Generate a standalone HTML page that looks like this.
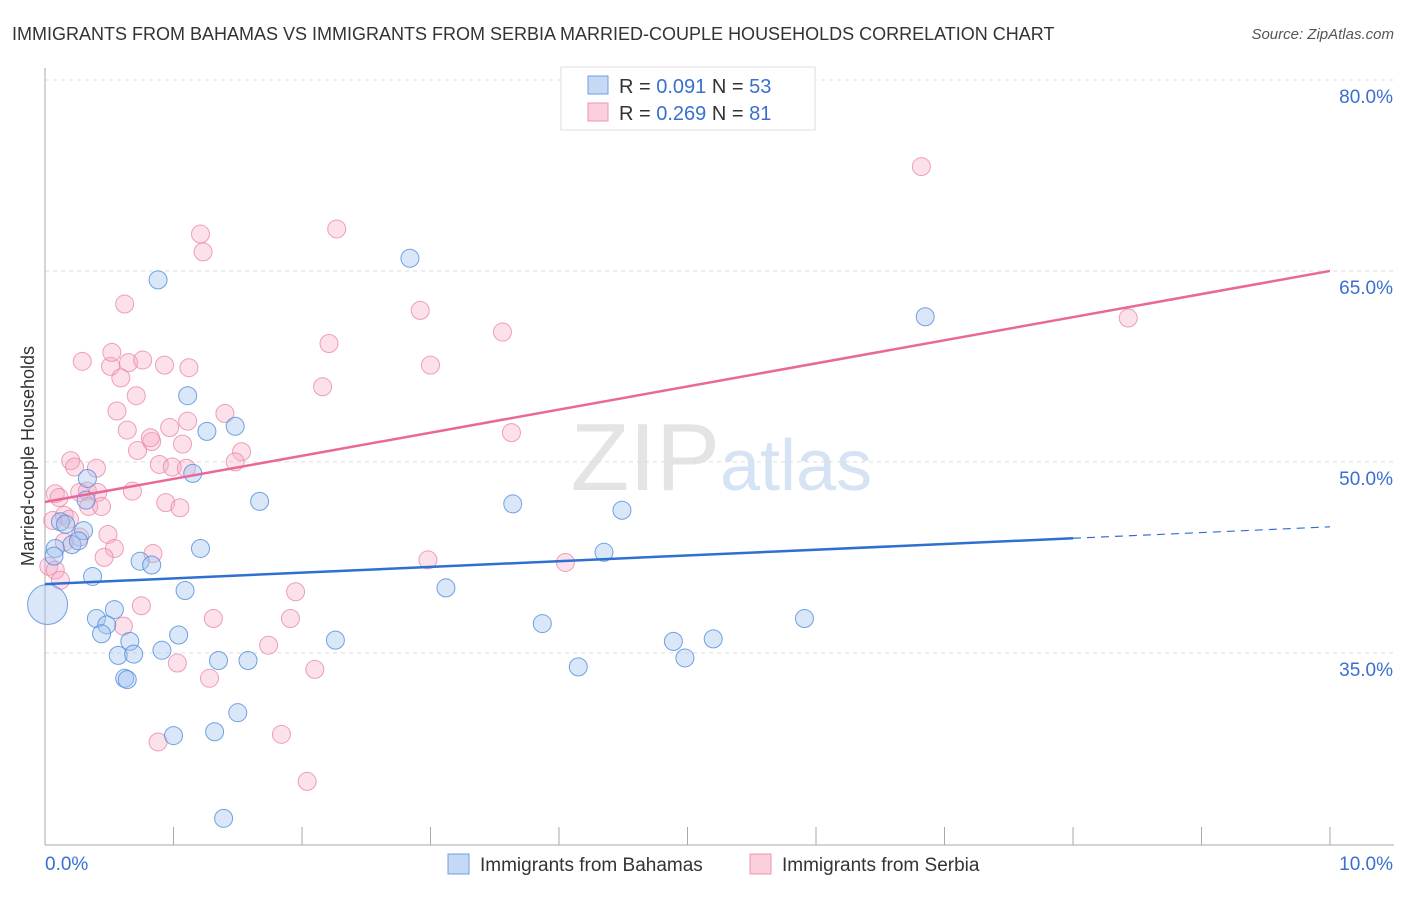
<!DOCTYPE html>
<html><head><meta charset="utf-8"><style>
body{margin:0;background:#fff;font-family:"Liberation Sans",sans-serif}
svg text{font-family:"Liberation Sans",sans-serif}
</style></head><body>
<svg id="c" width="1406" height="892">
<text x="12" y="40" font-size="18" fill="#333">IMMIGRANTS FROM BAHAMAS VS IMMIGRANTS FROM SERBIA MARRIED-COUPLE HOUSEHOLDS CORRELATION CHART</text>
<text x="1394" y="39" font-size="15" fill="#555" font-style="italic" text-anchor="end">Source: ZipAtlas.com</text>
<text x="720" y="490" font-size="96" fill="#e4e4e4" text-anchor="end" font-family="Liberation Serif">ZIP</text>
<text x="720" y="490" font-size="72" fill="#d6e3f5">atlas</text>
<g id="grid"></g><g id="pts"></g><g id="lines"></g>
<text transform="translate(34,456) rotate(-90)" font-size="18" fill="#333" text-anchor="middle">Married-couple Households</text>
<g>
<rect x="561" y="67" width="254" height="63" fill="#fff" stroke="#ddd"/>
<rect x="588" y="76" width="20" height="18" fill="#c5d9f5" stroke="#6e9ee0"/>
<rect x="588" y="103" width="20" height="18" fill="#fbcfdc" stroke="#eb97b2"/>
<text x="619" y="93" font-size="20" fill="#333">R = <tspan fill="#3a6fd0">0.091</tspan>   N = <tspan fill="#3a6fd0">53</tspan></text>
<text x="619" y="120" font-size="20" fill="#333">R = <tspan fill="#3a6fd0">0.269</tspan>   N = <tspan fill="#3a6fd0"> 81</tspan></text>
</g>
<g>
<rect x="448" y="854" width="21" height="20" fill="#c5d9f5" stroke="#6e9ee0"/>
<text x="480" y="871" font-size="19" fill="#333">Immigrants from Bahamas</text>
<rect x="750" y="854" width="21" height="20" fill="#fbcfdc" stroke="#eb97b2"/>
<text x="782" y="871" font-size="19" fill="#333">Immigrants from Serbia</text>
</g>
</svg>
<script>
const yTicks=[80,65,50,35];
const yTickLabels=["80.0%","65.0%","50.0%","35.0%"];
const xTicks=[0,1,2,3,4,5,6,7,8,9,10];
const blueX=[0.88,2.84,6.85,1.11,1.26,1.48,1.15,1.67,3.64,4.49,4.35,1.21,0.74,0.83,1.09,3.12,0.37,0.54,0.40,0.48,0.44,0.66,0.57,0.69,0.91,1.04,2.26,1.35,1.58,3.87,4.15,4.89,4.98,5.20,5.91,0.62,0.64,1.00,1.32,1.50,1.39,0.12,0.16,0.21,0.32,0.30,0.26,0.08,0.02,0.07,0.33];
const blueY=[64.3,66.0,61.4,55.2,52.4,52.8,49.1,46.9,46.7,46.2,42.9,43.2,42.2,41.9,39.9,40.1,41.0,38.4,37.7,37.2,36.5,35.9,34.8,34.9,35.2,36.4,36.0,34.4,34.4,37.3,33.9,35.9,34.6,36.1,37.7,33.0,32.9,28.5,28.8,30.3,22.0,45.3,45.1,43.5,47.0,44.6,43.8,43.2,38.8,42.6,48.7];
const pinkX=[6.82,2.27,1.21,1.23,0.62,2.92,3.56,2.21,0.29,0.51,0.65,0.76,0.93,1.12,0.52,0.59,3.00,2.16,0.71,0.56,1.40,0.64,0.83,0.82,0.97,1.11,1.07,1.53,0.72,3.63,1.48,0.89,0.99,1.10,0.20,0.23,0.40,0.08,0.11,0.27,0.33,0.41,0.68,0.94,1.05,0.34,0.44,0.15,0.19,0.06,0.49,0.27,0.54,0.84,0.46,0.03,0.08,0.12,0.75,1.31,1.91,1.95,0.61,1.74,1.03,2.10,1.28,2.98,4.05,8.43,0.88,1.84,2.04,0.15];
const pinkY=[73.2,68.3,67.9,66.5,62.4,61.9,60.2,59.3,57.9,57.5,57.8,58.0,57.6,57.4,58.6,56.6,57.6,55.9,55.2,54.0,53.8,52.5,51.6,51.9,52.7,53.2,51.4,50.8,50.9,52.3,50.0,49.8,49.6,49.5,50.1,49.6,49.5,47.5,47.2,47.6,47.7,47.6,47.7,46.8,46.4,46.5,46.5,45.8,45.5,45.4,44.3,44.1,43.2,42.8,42.5,41.8,41.5,40.7,38.7,37.7,37.7,39.8,37.1,35.6,34.2,33.7,33.0,42.3,42.1,61.3,28.0,28.6,24.9,43.7];
const blueTrend=[40.4,44.9];
const pinkTrend=[46.85,65.0];
const NS="http://www.w3.org/2000/svg";
const X=v=>45+v*128.5, Y=v=>80+(80-v)*12.73;
function mk(t,a,p){const e=document.createElementNS(NS,t);for(const k in a)e.setAttribute(k,a[k]);p.appendChild(e);return e;}
const g=document.getElementById('grid');
yTicks.forEach((t,i)=>{
 const l=mk('line',{x1:45,x2:1394,y1:Y(t),y2:Y(t),stroke:'#ddd','stroke-dasharray':'4,4'},g);
 
 
 const tx=mk('text',{x:1393,y:Y(t)+23,'font-size':19,fill:'#3a6fd0','text-anchor':'end'},g);tx.textContent=yTickLabels[i];
 
 
});
const ax=mk('line',{x1:45,x2:45,y1:68,y2:845,stroke:'#aaa'},g);


const bx=mk('line',{x1:45,x2:1394,y1:845,y2:845,stroke:'#aaa'},g);


xTicks.forEach(t=>{const l=mk('line',{x1:X(t),x2:X(t),y1:827,y2:845,stroke:'#aaa'},g);
 
 });
const xl0=mk('text',{x:45,y:870,'font-size':19,fill:'#3a6fd0'},g);xl0.textContent='0.0%';


const xl1=mk('text',{x:1393,y:870,'font-size':19,fill:'#3a6fd0','text-anchor':'end'},g);xl1.textContent='10.0%';


const p=document.getElementById('pts');
pinkX.forEach((x,i)=>{const c=mk('circle',{cx:X(x),cy:Y(pinkY[i]),r:9,fill:'rgba(246,170,195,0.35)',stroke:'rgba(232,130,165,0.75)','stroke-width':1},p);
 
 });
blueX.forEach((x,i)=>{const c=mk('circle',{cx:X(x),cy:Y(blueY[i]),r:(x<0.05?20:9),fill:'rgba(160,195,240,0.4)',stroke:'rgba(80,140,220,0.8)','stroke-width':1},p);
 
 });
const L=document.getElementById('lines');
const pl=mk('line',{x1:X(0),y1:Y(pinkTrend[0]),x2:X(10),y2:Y(pinkTrend[1]),stroke:'#e8689a','stroke-width':2.5},L);


const bAt=x=>blueTrend[0]+(blueTrend[1]-blueTrend[0])*x/10;
const bl=mk('line',{x1:X(0),y1:Y(bAt(0)),x2:X(8),y2:Y(bAt(8)),stroke:'#2e6fd0','stroke-width':2.5},L);


const bd=mk('line',{x1:X(8),y1:Y(bAt(8)),x2:X(10),y2:Y(bAt(10)),stroke:'#2e6fd0','stroke-width':1.2,'stroke-dasharray':'8,6'},L);


</script>
</body></html>
